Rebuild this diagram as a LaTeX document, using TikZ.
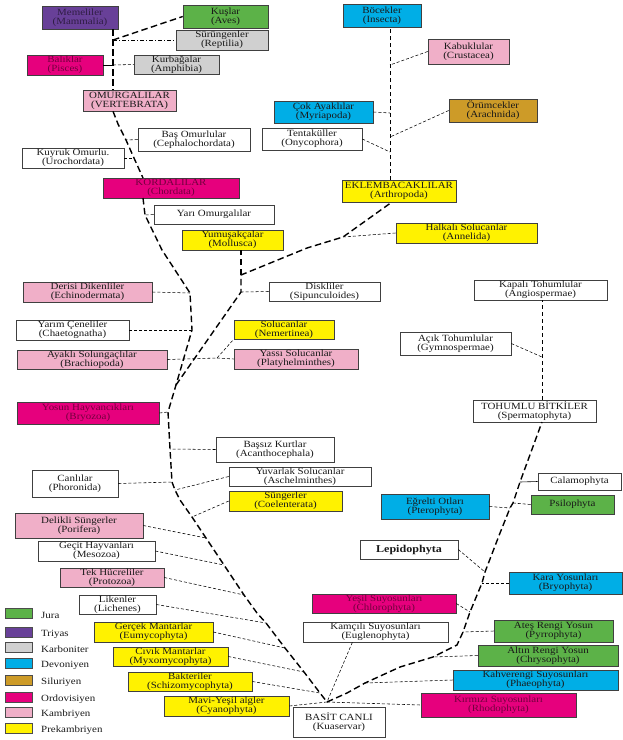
\documentclass[tikz,border=0pt]{standalone}
\usepackage{fontspec}
\setmainfont{Liberation Serif}[FakeStretch=1.15]
\usetikzlibrary{positioning}
\definecolor{jura}{RGB}{92,178,72}
\definecolor{triyas}{RGB}{104,64,152}
\definecolor{karbon}{RGB}{208,208,208}
\definecolor{devon}{RGB}{0,174,230}
\definecolor{silur}{RGB}{205,155,40}
\definecolor{ordov}{RGB}{230,0,125}
\definecolor{kamb}{RGB}{240,175,200}
\definecolor{prek}{RGB}{255,242,0}

\begin{document}
\begin{tikzpicture}[x=1pt,y=-1pt,
  box/.style={draw=black!75,line width=0.6pt,inner sep=0pt,align=center,text=black!90,
    font=\fontsize{9.5}{8.8}\selectfont},
  sz/.style 2 args={minimum width=#1,minimum height=#2},
  bjura/.style={box,fill=jura},
  btri/.style={box,fill=triyas,text=triyas!45!black},
  bkarb/.style={box,fill=karbon},
  bdev/.style={box,fill=devon},
  bsil/.style={box,fill=silur},
  bord/.style={box,fill=ordov,text=ordov!50!black},
  bkamb/.style={box,fill=kamb},
  bprek/.style={box,fill=prek},
  bplain/.style={box,fill=white},
  trunk/.style={line width=1.4pt,dash pattern=on 6.5pt off 3.5pt},
  stem/.style={line width=1pt,dash pattern=on 4pt off 3pt},
  twig/.style={line width=0.55pt,dash pattern=on 3pt off 2pt},
  swatch/.style={draw=black!70,line width=0.5pt,minimum width=27pt,minimum height=10pt,inner sep=0pt}]
\useasboundingbox (0,0) rectangle (623,740);

\node[btri,sz={76}{23}] (mam) at (80,17.5) {Memeliler\\(Mammalia)};
\node[bjura,sz={85}{23}] (aves) at (225.5,16.5) {Kuşlar\\(Aves)};
\node[bkarb,sz={92}{20}] (rept) at (222,40) {Sürüngenler\\(Reptilia)};
\node[bord,sz={76}{20}] (pisc) at (65,65) {Balıklar\\(Pisces)};
\node[bkarb,sz={85}{19}] (amph) at (176.5,64.5) {Kurbağalar\\(Amphibia)};
\node[bkamb,sz={93}{21}] (vert) at (129.5,100.5) {OMURGALILAR\\(VERTEBRATA)};
\node[bdev,sz={78}{23}] (inse) at (382,15.5) {Böcekler\\(Insecta)};
\node[bkamb,sz={81}{25}] (crus) at (468.5,51.5) {Kabuklular\\(Crustacea)};
\node[bdev,sz={99}{22}] (myri) at (323.5,112) {Çok Ayaklılar\\(Myriapoda)};
\node[bsil,sz={88}{23}] (arac) at (493,110.5) {Örümcekler\\(Arachnida)};
\node[bplain,sz={112}{23}] (ceph) at (194,139.5) {Baş Omurlular\\(Cephalochordata)};
\node[bplain,sz={100}{22}] (onyc) at (312,139) {Tentaküller\\(Onycophora)};
\node[bplain,sz={102}{20}] (uroc) at (73,158) {Kuyruk Omurlu.\\(Urochordata)};
\node[bord,sz={136}{20}] (chor) at (171,188) {KORDALILAR\\(Chordata)};
\node[bplain,sz={120}{19}] (hemi) at (214,214.5) {Yarı Omurgalılar};
\node[bprek,sz={114}{22}] (arth) at (399,191) {EKLEMBACAKLILAR\\(Arthropoda)};
\node[bprek,sz={101}{20}] (moll) at (232.5,240) {Yumuşakçalar\\(Mollusca)};
\node[bprek,sz={141}{20}] (anne) at (466.5,233) {Halkalı Solucanlar\\(Annelida)};
\node[bplain,sz={111}{19}] (sipu) at (324.5,291.5) {Diskliler\\(Sipunculoides)};
\node[bplain,sz={133}{20}] (angi) at (540.5,290) {Kapalı Tohumlular\\(Angiospermae)};
\node[bplain,sz={111}{23}] (gymn) at (455.5,343.5) {Açık Tohumlular\\(Gymnospermae)};
\node[bkamb,sz={129}{20}] (echi) at (87.5,292) {Derisi Dikenliler\\(Echinodermata)};
\node[bplain,sz={113}{20}] (chae) at (72.5,330) {Yarım Çeneliler\\(Chaetognatha)};
\node[bkamb,sz={150}{19}] (brac) at (92,359.5) {Ayaklı Solungaçlılar\\(Brachiopoda)};
\node[bprek,sz={100}{19}] (neme) at (284,329.5) {Solucanlar\\(Nemertinea)};
\node[bkamb,sz={124}{20}] (plat) at (296,359) {Yassı Solucanlar\\(Platyhelminthes)};
\node[bord,sz={142}{22}] (bryz) at (88,413) {Yosun Hayvancıkları\\(Bryozoa)};
\node[bplain,sz={118}{25}] (acan) at (275,449.5) {Başsız Kurtlar\\(Acanthocephala)};
\node[bplain,sz={142}{19}] (asch) at (300,476.5) {Yuvarlak Solucanlar\\(Aschelminthes)};
\node[bprek,sz={113}{20}] (coel) at (285.5,501) {Süngerler\\(Coelenterata)};
\node[bplain,sz={86}{27}] (phor) at (75,483.5) {Canlılar\\(Phoronida)};
\node[bplain,sz={123}{22}] (sper) at (534.5,411) {TOHUMLU BİTKİLER\\(Spermatophyta)};
\node[bplain,sz={83}{17}] (cala) at (579.5,481.5) {Calamophyta};
\node[bjura,sz={83}{19}] (psil) at (572.5,504.5) {Psilophyta};
\node[bdev,sz={108}{25}] (pter) at (435,506.5) {Eğrelti Otları\\(Pterophyta)};
\node[bplain,sz={98}{19},font=\bfseries\fontsize{10.5}{11}\selectfont] (lepi) at (409,549.5) {Lepidophyta};
\node[bdev,sz={113}{22}] (bryo) at (565.5,583) {Kara Yosunları\\(Bryophyta)};
\node[bord,sz={144}{19}] (chlo) at (384,603.5) {Yeşil Suyosunları\\(Chlorophyta)};
\node[bkamb,sz={128}{25}] (pori) at (79,525.5) {Delikli Süngerler\\(Porifera)};
\node[bplain,sz={117}{20}] (meso) at (96.5,551) {Geçit Hayvanları\\(Mesozoa)};
\node[bkamb,sz={104}{19}] (prot) at (112,577.5) {Tek Hücreliler\\(Protozoa)};
\node[bplain,sz={77}{19}] (lich) at (117.5,604.5) {Likenler\\(Lichenes)};
\node[bprek,sz={119}{20}] (eumy) at (153.5,632) {Gerçek Mantarlar\\(Eumycophyta)};
\node[bprek,sz={115}{19}] (myxo) at (170.5,656.5) {Cıvık Mantarlar\\(Myxomycophyta)};
\node[bprek,sz={124}{19}] (schi) at (190,681.5) {Bakteriler\\(Schizomycophyta)};
\node[bprek,sz={125}{20}] (cyan) at (226.5,706) {Mavi-Yeşil algler\\(Cyanophyta)};
\node[bplain,sz={92}{30}] (basit) at (339,722) {BASİT CANLI\\(Kuaservar)};
\node[bplain,sz={145}{20}] (eugl) at (375.5,632) {Kamçılı Suyosunları\\(Euglenophyta)};
\node[bjura,sz={119}{22}] (pyrr) at (553.5,631) {Ateş Rengi Yosun\\(Pyrrophyta)};
\node[bjura,sz={140}{21}] (chry) at (548,655.5) {Altın Rengi Yosun\\(Chrysophyta)};
\node[bdev,sz={165}{20}] (phae) at (535.5,680) {Kahverengi Suyosunları\\(Phaeophyta)};
\node[bord,sz={155}{24}] (rhod) at (498.5,705) {Kırmızı Suyosunları\\(Rhodophyta)};

\foreach \c/\t/\y in {jura/Jura/613,triyas/Triyas/632,karbon/Karboniter/647,devon/Devoniyen/663.5,
    silur/Siluriyen/680,ordov/Ordovisiyen/697,kamb/Kambriyen/712,prek/Prekambriyen/728}{
  \node[swatch,fill=\c] (sw-\c) at (18.5,\y) {};
  \node[anchor=west,inner sep=0pt,text=black!90,font=\fontsize{9.5}{10}\selectfont] (lg-\c) at (41,\y+2) {\t};
}

\coordinate (a1) at (113,40);
\coordinate (a2) at (113,65);
\coordinate (a3) at (118,124);
\coordinate (a4) at (126,140);
\coordinate (a5) at (134,158);
\coordinate (a6) at (143,178);
\coordinate (a7) at (143,198);
\coordinate (a8) at (145,215);
\coordinate (a9) at (162,250);
\coordinate (a10) at (190,293);
\coordinate (a11) at (192,330);
\coordinate (a12) at (176,385);
\coordinate (a13) at (168,412);
\coordinate (a14) at (170,449);
\coordinate (a15) at (172,482);
\coordinate (a16) at (175,490);
\coordinate (a17) at (180,500);
\coordinate (a18) at (192,517);
\coordinate (a19) at (206,538);
\coordinate (a20) at (224,565);
\coordinate (a21) at (244,595);
\coordinate (a22) at (257,613);
\coordinate (a23) at (266,623);
\coordinate (a24) at (285,648);
\coordinate (a25) at (304,672);
\coordinate (a26) at (320,693);
\coordinate (root) at (327,702);
\coordinate (b1) at (241,292);
\coordinate (b2) at (241,275);
\coordinate (b3) at (307,248);
\coordinate (b4) at (343,237);
\coordinate (b5) at (392,202);
\coordinate (c0) at (390,180);
\coordinate (c1) at (390,65);
\coordinate (c2) at (390,113);
\coordinate (c3) at (390,137);
\coordinate (c4) at (390,152);
\coordinate (n1) at (217,358);
\coordinate (p1) at (347,693);
\coordinate (p2) at (365,683);
\coordinate (p3) at (400,667);
\coordinate (p4) at (433,657);
\coordinate (p5) at (457,645);
\coordinate (p6) at (463,632);
\coordinate (p7) at (470,612);
\coordinate (p8) at (482,583);
\coordinate (p9) at (485,572);
\coordinate (p10) at (500,533);
\coordinate (p11) at (510,508);
\coordinate (p12) at (513,503);
\coordinate (p13) at (520,482);
\coordinate (p14) at (542,422);
\coordinate (p15) at (542,357);

\draw[trunk] (mam.south -| a1) -- (a1) -- (a2) -- (vert.north -| a1);
\draw[trunk] (vert.south -| a1) -- (a3) -- (a4) -- (a5) -- (a6);
\draw[trunk] (a7) -- (a8) -- (a9) -- (a10) -- (a11) -- (a12) -- (a13) -- (a14) -- (a15) -- (a16) -- (a17)
  -- (a18) -- (a19) -- (a20) -- (a21) -- (a22) -- (a23) -- (a24) -- (a25) -- (a26) -- (root);
\draw[trunk] (a12) -- (b1) -- (b2) -- (b3) -- (b4) -- (b5);
\draw[trunk] (b2) -- (moll.south -| b2);
\draw[stem] (c0) -- (inse.south -| c0);
\draw[trunk] (root) -- (p1) -- (p2) -- (p3) -- (p4) -- (p5) -- (p6) -- (p7) -- (p8) -- (p9) -- (p10)
  -- (p11) -- (p12) -- (p13) -- (p14);
\draw[stem] (sper.north -| p14) -- (angi.south -| p14);

\draw[trunk] (a1) -- (aves.west);
\draw[twig,dash pattern=on 4pt off 2pt on 1pt off 2pt] (a1) -- (rept.west);
\draw[line width=0.6pt] (pisc.east) -- (a2);
\draw[twig] (a2) -- (amph.west);
\draw[twig] (ceph.west) -- (a4);
\draw[twig] (uroc.east) -- (a5);
\draw[twig] (hemi.west) -- (a8);
\draw[twig] (echi.east) -- (a10);
\draw[twig] (chae.east) -- (a11);
\draw[twig] (brac.east) -- (n1) -- (neme.south west);
\draw[twig] (n1) -- (plat.west);
\draw[twig] (bryz.east) -- (a13);
\draw[twig] (acan.west) -- (a14);
\draw[twig] (phor.east) -- (a15);
\draw[twig] (asch.west) -- (a16);
\draw[twig] (coel.west) -- (a18);
\draw[twig] (pori.east) -- (a19);
\draw[twig] (meso.east) -- (a20);
\draw[twig] (prot.east) -- (a21);
\draw[twig] (lich.east) -- (a23);
\draw[twig] (eumy.east) -- (a24);
\draw[twig] (myxo.east) -- (a25);
\draw[twig] (schi.east) -- (a26);
\draw[twig] (cyan.east) -- (root);
\draw[twig] (sipu.west) -- (b1);
\draw[twig] (anne.west) -- (b4);
\draw[twig] (crus.west) -- (c1);
\draw[twig] (myri.east) -- (c2);
\draw[twig] (arac.west) -- (c3);
\draw[twig] (onyc.east) -- (c4);
\draw[twig] (eugl.204) -- (root);
\draw[twig] (root) -- (rhod.west);
\draw[twig] (phae.west) -- (p2);
\draw[twig] (chry.west) -- (p4);
\draw[twig] (pyrr.west) -- (p6);
\draw[twig] (chlo.east) -- (p7);
\draw[twig] (bryo.west) -- (p8);
\draw[twig] (lepi.east) -- (p9);
\draw[twig] (pter.east) -- (p11);
\draw[twig] (psil.west) -- (p12);
\draw[line width=0.6pt] (cala.west) -- (p13);
\draw[twig] (gymn.east) -- (p15);
\end{tikzpicture}
\end{document}
